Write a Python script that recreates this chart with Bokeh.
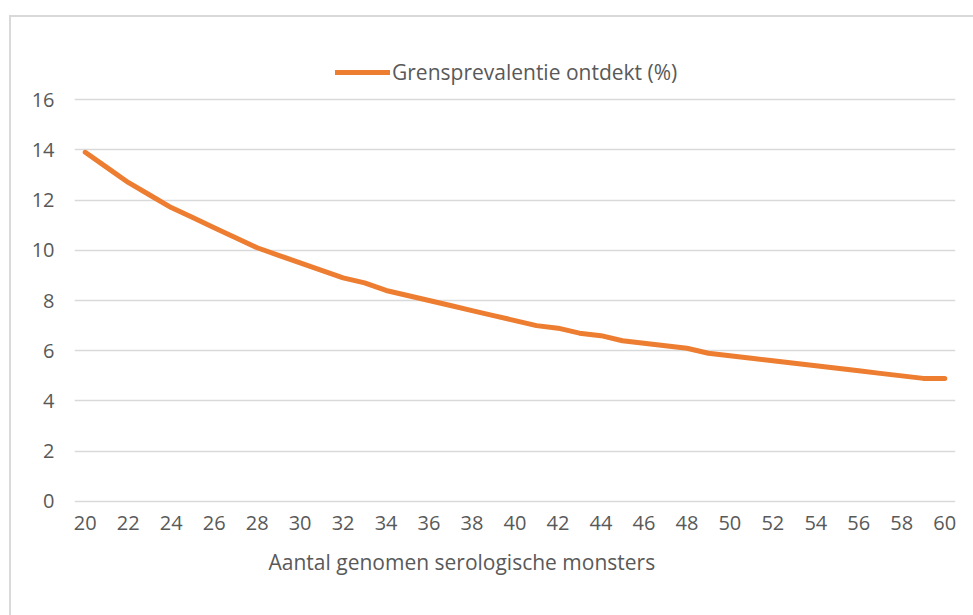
from bokeh.plotting import figure
from bokeh.models import Range1d, Legend, LegendItem, Title, FixedTicker
from bokeh.embed import file_html
from bokeh.resources import INLINE

# data
samples = list(range(20, 61))
prevalence = [13.9, 13.3, 12.7, 12.2, 11.7, 11.3, 10.9, 10.5, 10.1, 9.8,
              9.5, 9.2, 8.9, 8.7, 8.4, 8.2, 8.0, 7.8, 7.6, 7.4,
              7.2, 7.0, 6.9, 6.7, 6.6, 6.4, 6.3, 6.2, 6.1, 5.9,
              5.8, 5.7, 5.6, 5.5, 5.4, 5.3, 5.2, 5.1, 5.0, 4.9, 4.9]
x_ticks = list(range(20, 61, 2))
y_ticks = list(range(0, 17, 2))
series_label = "Grensprevalentie ontdekt (%)"
x_title = "Aantal genomen serologische monsters"

FONT = "Open Sans"
TXT = "#595959"
GRID = "#d9d9d9"

p = figure(width=973, height=615,
           x_range=Range1d(19.5, 60.5), y_range=Range1d(-0.12, 18.35),
           output_backend="svg", toolbar_location=None,
           min_border_left=74, min_border_right=18, min_border_top=40, min_border_bottom=111)
p.outline_line_color = None
p.background_fill_color = "white"
p.border_fill_color = None
p.styles = {
    "background-color": "white",
    "background-image": f"linear-gradient({GRID}, {GRID}), linear-gradient({GRID}, {GRID})",
    "background-size": "970px 2px, 2px 620px",
    "background-position": "10px 15px, 9px 15px",
    "background-repeat": "no-repeat",
}

p.xgrid.visible = False
p.ygrid.grid_line_color = GRID
p.ygrid.grid_line_width = 1.5

p.xaxis.ticker = FixedTicker(ticks=x_ticks)
p.yaxis.ticker = FixedTicker(ticks=y_ticks)
for ax in (p.xaxis, p.yaxis):
    ax.axis_line_color = None
    ax.major_tick_line_color = None
    ax.minor_tick_line_color = None
    ax.major_tick_in = 0
    ax.major_tick_out = 0
    ax.minor_tick_in = 0
    ax.minor_tick_out = 0
    ax.major_label_text_font = FONT
    ax.major_label_text_font_size = "20px"
    ax.major_label_text_color = TXT
p.xaxis.major_label_standoff = 11
p.yaxis.major_label_standoff = 20

r = p.line(samples, prevalence, line_color="#ED7D31", line_width=5,
           line_cap="round", line_join="round")

legend = Legend(items=[LegendItem(label=series_label, renderers=[r])],
                location=(261, 418), orientation="horizontal",
                glyph_width=55, glyph_height=20, label_standoff=2,
                padding=5, margin=0, border_line_color=None,
                background_fill_alpha=0,
                label_text_font=FONT, label_text_color=TXT,
                label_text_font_size="21px")
p.add_layout(legend)

xt = Title(text=x_title, align="left", offset=194, standoff=27,
           text_font=FONT, text_font_size="21px", text_font_style="normal",
           text_color=TXT)
p.add_layout(xt, "below")

open("out.html", "w").write(file_html(p, INLINE))
